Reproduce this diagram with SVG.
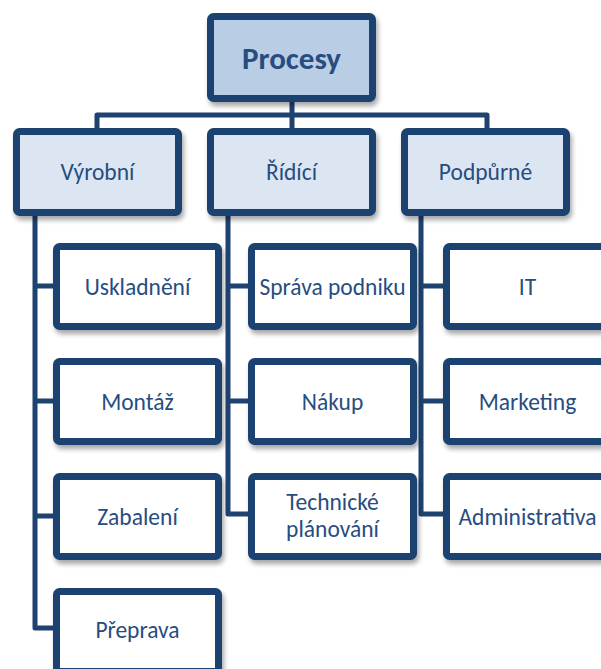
<svg xmlns="http://www.w3.org/2000/svg" width="601" height="669" viewBox="0 0 601 669">
  <defs>
    <filter id="shadow" x="-10%" y="-10%" width="130%" height="140%">
      <feGaussianBlur in="SourceAlpha" stdDeviation="2.5"/>
      <feOffset dx="2" dy="4" result="b"/>
      <feComponentTransfer><feFuncA type="linear" slope="0.35"/></feComponentTransfer>
      <feMerge><feMergeNode/><feMergeNode in="SourceGraphic"/></feMerge>
    </filter>
  </defs>
  <style>
    .box { stroke: #1F4371; stroke-width: 7; filter: url(#shadow); }
    .top { fill: #B9CDE5; }
    .mid { fill: #DCE6F2; }
    .leaf { fill: #FFFFFF; }
    .conn { fill: none; stroke: #1F4371; stroke-width: 5; stroke-linejoin: round; stroke-linecap: butt; }
    text { font-family: "Carlito", "Open Sans", "Liberation Sans", sans-serif; fill: #274D80; text-anchor: middle; dominant-baseline: central; font-size: 23.5px; }
    .title { font-size: 31px; font-weight: bold; }
  </style>
  <rect width="601" height="669" fill="#FFFFFF"/>

  <!-- connectors -->
  <g id="connectors">
    <path class="conn" d="M292 102 V115 M97 128 V115 H487 V128 M292 115 V128"/>
    <path class="conn" d="M35 216 V628 H53 M35 286 H53 M35 401 H53 M35 516 H53"/>
    <path class="conn" d="M228 216 V514 H248 M228 286 H248 M228 401 H248"/>
    <path class="conn" d="M421 216 V514 H443 M421 286 H443 M421 401 H443"/>
  </g>

  <g id="procesy">
    <rect class="box top" x="210.5" y="16.5" width="162" height="82" rx="3"/>
    <text class="title" x="291.5" y="57.5">Procesy</text>
  </g>

  <g id="vyrobni">
    <rect class="box mid" x="16.5" y="131.5" width="162" height="81" rx="3"/>
    <text x="97.5" y="172">Výrobní</text>
  </g>
  <g id="ridici">
    <rect class="box mid" x="210.5" y="131.5" width="162" height="81" rx="3"/>
    <text x="291.5" y="172">Řídící</text>
  </g>
  <g id="podpurne">
    <rect class="box mid" x="404.5" y="131.5" width="162" height="81" rx="3"/>
    <text x="485.5" y="172">Podpůrné</text>
  </g>

  <g id="uskladneni">
    <rect class="box leaf" x="56.5" y="246.5" width="162" height="80" rx="3"/>
    <text x="137.5" y="286.5">Uskladnění</text>
  </g>
  <g id="montaz">
    <rect class="box leaf" x="56.5" y="361.5" width="162" height="80" rx="3"/>
    <text x="137.5" y="401.5">Montáž</text>
  </g>
  <g id="zabaleni">
    <rect class="box leaf" x="56.5" y="476.5" width="162" height="80" rx="3"/>
    <text x="137.5" y="516.5">Zabalení</text>
  </g>
  <g id="preprava">
    <rect class="box leaf" x="56.5" y="591.5" width="162" height="80" rx="3"/>
    <text x="137.5" y="630">Přeprava</text>
  </g>

  <g id="sprava-podniku">
    <rect class="box leaf" x="251.5" y="246.5" width="162" height="80" rx="3"/>
    <text x="332.5" y="286.5">Správa podniku</text>
  </g>
  <g id="nakup">
    <rect class="box leaf" x="251.5" y="361.5" width="162" height="80" rx="3"/>
    <text x="332.5" y="401.5">Nákup</text>
  </g>
  <g id="technicke-planovani">
    <rect class="box leaf" x="251.5" y="476.5" width="162" height="80" rx="3"/>
    <text x="332.5" y="502">Technické</text>
    <text x="332.5" y="529">plánování</text>
  </g>

  <g id="it">
    <rect class="box leaf" x="446.5" y="246.5" width="162" height="80" rx="3"/>
    <text x="527.5" y="286.5">IT</text>
  </g>
  <g id="marketing">
    <rect class="box leaf" x="446.5" y="361.5" width="162" height="80" rx="3"/>
    <text x="527.5" y="401.5">Marketing</text>
  </g>
  <g id="administrativa">
    <rect class="box leaf" x="446.5" y="476.5" width="162" height="80" rx="3"/>
    <text x="527.5" y="516.5">Administrativa</text>
  </g>
</svg>
